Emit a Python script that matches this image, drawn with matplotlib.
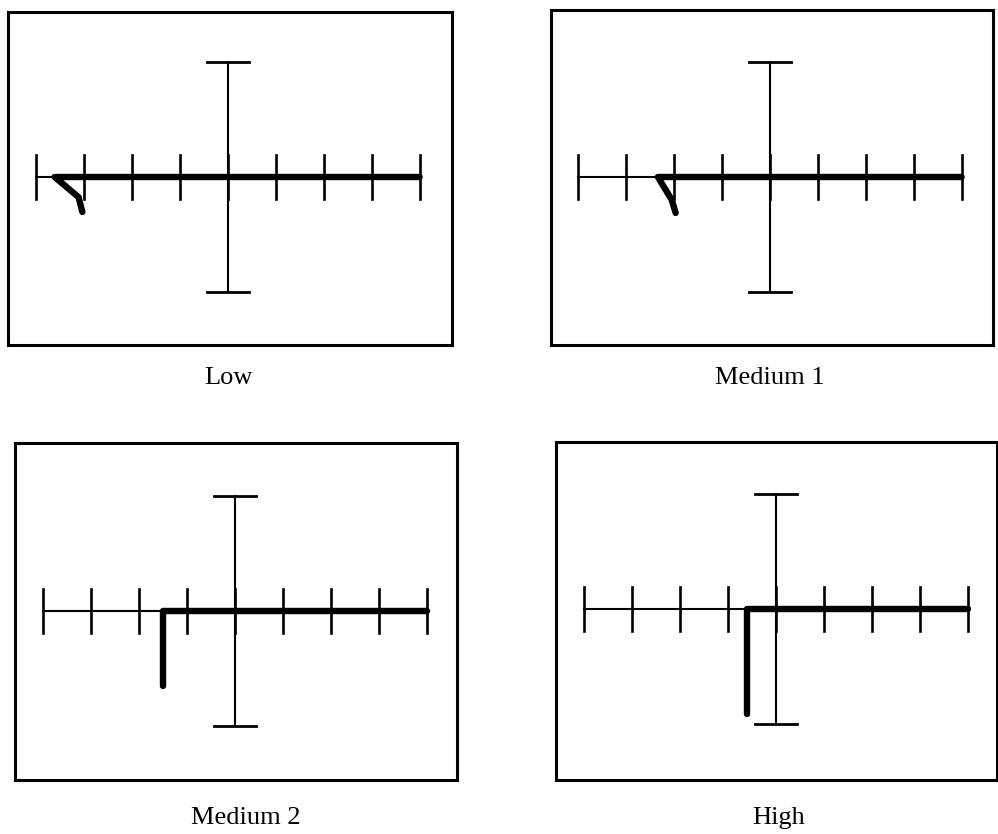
import matplotlib
matplotlib.use('Agg')
import matplotlib.pyplot as plt

# Etiquetas de cada pantalla
titulos = ['Low', 'Medium 1', 'Medium 2', 'High']

# Divisiones de la reticula horizontal
divisiones = [-4, -3, -2, -1, 0, 1, 2, 3, 4]

# Trazas (en divisiones): desde el extremo derecho hacia el gancho
traza_low_x = [4.0, -3.62, -3.12, -3.04]
traza_low_y = [0.0, 0.0, -0.42, -0.73]
traza_med1_x = [4.0, -2.34, -2.05, -1.97]
traza_med1_y = [0.0, 0.0, -0.48, -0.75]
traza_med2_x = [4.0, -1.51, -1.51]
traza_med2_y = [0.0, 0.0, -1.57]
traza_high_x = [4.0, -0.60, -0.60]
traza_high_y = [0.0, 0.0, -2.2]

trazas = [(traza_low_x, traza_low_y), (traza_med1_x, traza_med1_y),
          (traza_med2_x, traza_med2_y), (traza_high_x, traza_high_y)]

W, H = 998, 834
# Caja de cada panel en pixeles: x0, y0, x1, y1, centro x, centro y
cajas = [
    (8, 12, 452, 345, 228, 177),
    (551, 10, 993, 345, 770, 177),
    (15, 443, 457, 780, 235, 611),
    (556, 442, 997, 780, 776, 609),
]
escala = 47.9  # pixeles por division
etiquetas_pos = [(228, 378), (770, 378), (246, 818), (779, 818)]

fig = plt.figure(figsize=(W / 100, H / 100), dpi=100)

for (x0, y0, x1, y1, cx, cy), (tx, ty), titulo, (lx, ly) in zip(cajas, trazas, titulos, etiquetas_pos):
    ax = fig.add_axes([x0 / W, 1 - y1 / H, (x1 - x0) / W, (y1 - y0) / H])
    ax.set_xlim((x0 - cx) / escala, (x1 - cx) / escala)
    ax.set_ylim((cy - y1) / escala, (cy - y0) / escala)
    ax.set_xticks([])
    ax.set_yticks([])
    for s in ax.spines.values():
        s.set_linewidth(2.2)
        s.set_color('black')

    # Reticula
    ax.plot([divisiones[0], divisiones[-1]], [0, 0], color='black', lw=1.5)
    for d in divisiones:
        ax.plot([d, d], [-0.45, 0.45], color='black', lw=1.9)
    ax.plot([0, 0], [-2.4, 2.4], color='black', lw=1.5)
    ax.plot([-0.43, 0.43], [2.4, 2.4], color='black', lw=2.0)
    ax.plot([-0.43, 0.43], [-2.4, -2.4], color='black', lw=2.0)

    # Traza
    ax.plot(tx, ty, color='black', lw=4.6, solid_capstyle='round', solid_joinstyle='round')

    fig.text(lx / W, 1 - ly / H, titulo, ha='center', va='center',
             fontsize=19, family='Liberation Serif')

fig.savefig('out.png', dpi=100)
